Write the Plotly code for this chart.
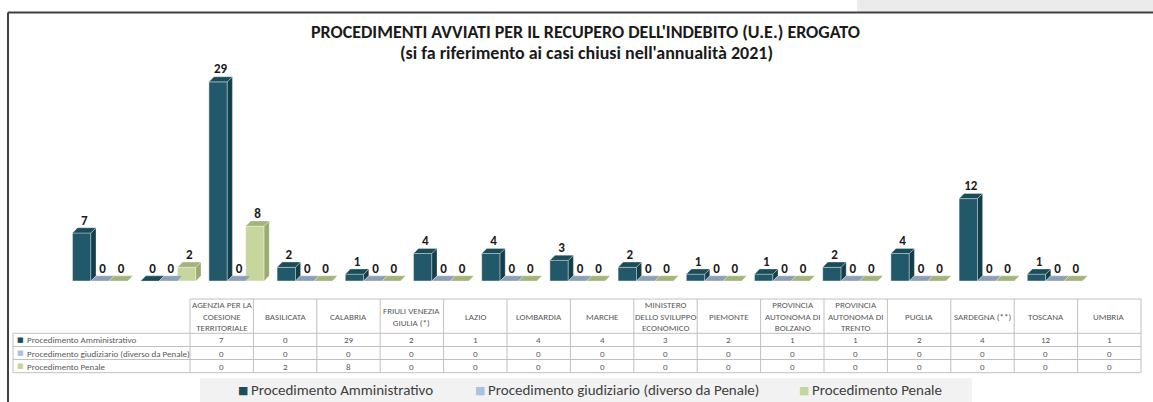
import plotly.graph_objects as go

W, H = 1153, 402

categories = ["AGENZIA PER LA<br>COESIONE<br>TERRITORIALE", "BASILICATA", "CALABRIA",
              "FRIULI VENEZIA<br>GIULIA (*)", "LAZIO", "LOMBARDIA", "MARCHE",
              "MINISTERO<br>DELLO SVILUPPO<br>ECONOMICO", "PIEMONTE",
              "PROVINCIA<br>AUTONOMA DI<br>BOLZANO", "PROVINCIA<br>AUTONOMA DI<br>TRENTO",
              "PUGLIA", "SARDEGNA (**)", "TOSCANA", "UMBRIA"]
series_names = ["Procedimento Amministrativo",
                "Procedimento giudiziario (diverso da Penale)",
                "Procedimento Penale"]
amministrativo = [7, 0, 29, 2, 1, 4, 4, 3, 2, 1, 1, 2, 4, 12, 1]
giudiziario = [0, 0, 0, 0, 0, 0, 0, 0, 0, 0, 0, 0, 0, 0, 0]
penale = [0, 2, 8, 0, 0, 0, 0, 0, 0, 0, 0, 0, 0, 0, 0]
series_values = [amministrativo, giudiziario, penale]

front_col = ["#22596a", "#97a8bd", "#c6d69c"]
side_col = ["#143e4a", "#7a8aa0", "#9aab6f"]
top_col = ["#1b4c59", "#8e9fb5", "#a3b37a"]
legend_col = ["#1f4e5a", "#a9c3df", "#c3d69b"]

FONT = "Calibri, Carlito, 'Liberation Sans Narrow', 'Liberation Sans', sans-serif"


def px(x):
    return x / W


def py(y):
    return 1 - y / H


bw = 0.27      # bar width (category units)
dx = 0.075     # depth offset in x
dy = 0.75      # depth offset in y

fig = go.Figure()
xs = list(range(len(categories)))

for k, (name, vals) in enumerate(zip(series_names, series_values)):
    off = -1.5 * bw + k * bw
    fig.add_trace(go.Bar(x=xs, y=vals, width=bw, offset=off, name=name,
                         marker=dict(color=front_col[k], line=dict(color="rgba(255,255,255,0.55)", width=0.8)),
                         showlegend=False, hoverinfo="skip"))
    sx, sy, tx, ty = [], [], [], []
    for i, v in zip(xs, vals):
        x0 = i + off
        x1 = x0 + bw
        if v > 0:
            sx += [x1, x1 + dx, x1 + dx, x1, x1, None]
            sy += [0, dy, v + dy, v, 0, None]
        tx += [x0, x1, x1 + dx, x0 + dx, x0, None]
        ty += [v, v, v + dy, v + dy, v, None]
    fig.add_trace(go.Scatter(x=sx, y=sy, mode="lines", fill="toself", fillcolor=side_col[k],
                             line=dict(color="rgba(255,255,255,0.5)", width=0.6),
                             showlegend=False, hoverinfo="skip"))
    fig.add_trace(go.Scatter(x=tx, y=ty, mode="lines", fill="toself", fillcolor=top_col[k],
                             line=dict(color="rgba(255,255,255,0.5)", width=0.6),
                             showlegend=False, hoverinfo="skip"))
    fig.add_trace(go.Scatter(x=[i + off + bw / 2 + dx / 2 for i in xs],
                             y=[v + dy for v in vals], mode="text",
                             text=[str(v) for v in vals], textposition="top center",
                             textfont=dict(family=FONT, size=13, color="#1a1a1a", weight="bold"),
                             cliponaxis=False, showlegend=False, hoverinfo="skip"))

fig.update_layout(
    width=W, height=H, margin=dict(l=0, r=0, t=0, b=0),
    paper_bgcolor="white", plot_bgcolor="rgba(0,0,0,0)",
    barmode="overlay",
    xaxis=dict(range=[-0.5, 14.5], domain=[px(66), px(1089)], visible=False, fixedrange=True),
    yaxis=dict(range=[0, 30], domain=[py(281), py(75)], visible=False, fixedrange=True),
)

# ---- data table (grid + text) ----
ncol = len(categories)
t_left, c_left, t_right = 13, 190, 1141
colw = (t_right - c_left) / ncol
h_top, h_bot = 299, 333.3
row_edges = [333.3, 346.5, 359.5, 372.7]
grid = dict(color="#c0c0c0", width=1)


def hline(y, x0, x1):
    fig.add_shape(type="line", xref="paper", yref="paper", x0=px(x0), x1=px(x1),
                  y0=py(y), y1=py(y), line=grid)


def vline(x, y0, y1):
    fig.add_shape(type="line", xref="paper", yref="paper", x0=px(x), x1=px(x),
                  y0=py(y0), y1=py(y1), line=grid)


hline(h_top, c_left, t_right)
for y in row_edges:
    hline(y, t_left, t_right)
vline(t_left, row_edges[0], row_edges[-1])
for j in range(ncol + 1):
    vline(c_left + j * colw, h_top, row_edges[-1])

for j, cat in enumerate(categories):
    fig.add_annotation(x=px(c_left + (j + 0.5) * colw), y=py((h_top + h_bot) / 2),
                       xref="paper", yref="paper", showarrow=False, xanchor="center", yanchor="middle",
                       text=cat, align="center",
                       font=dict(family=FONT, size=9, color="#595959"))
for r, (name, vals) in enumerate(zip(series_names, series_values)):
    yc = (row_edges[r] + row_edges[r + 1]) / 2
    fig.add_annotation(x=px(t_left + 2), y=py(yc), xref="paper", yref="paper", showarrow=False,
                       xanchor="left", yanchor="middle", text="■",
                       font=dict(family="DejaVu Sans", size=7, color=legend_col[r]))
    fig.add_annotation(x=px(t_left + 12), y=py(yc), xref="paper", yref="paper", showarrow=False,
                       xanchor="left", yanchor="middle", text=name,
                       font=dict(family=FONT, size=9, color="#595959"))
    for j, v in enumerate(vals):
        fig.add_annotation(x=px(c_left + (j + 0.5) * colw), y=py(yc), xref="paper", yref="paper",
                           showarrow=False, xanchor="center", yanchor="middle", text=str(v),
                           font=dict(family=FONT, size=9, color="#595959"))

# frame and top-right gray area
fig.add_shape(type="rect", xref="paper", yref="paper", x0=px(857), x1=1, y0=py(12), y1=1,
              fillcolor="#ebebeb", line=dict(width=0), layer="below")
fig.add_shape(type="line", xref="paper", yref="paper", x0=px(8), x1=1, y0=py(12.5), y1=py(12.5),
              line=dict(color="#404040", width=2))
fig.add_shape(type="line", xref="paper", yref="paper", x0=px(8), x1=px(8), y0=0, y1=py(12.5),
              line=dict(color="#404040", width=2))
# legend background
fig.add_shape(type="rect", xref="paper", yref="paper", x0=px(200), x1=px(972), y0=0, y1=py(378),
              fillcolor="#f2f2f2", line=dict(width=0), layer="below")

# titles
fig.add_annotation(x=px(585), y=py(32), xref="paper", yref="paper", showarrow=False,
                   xanchor="center", yanchor="middle",
                   text="PROCEDIMENTI AVVIATI PER IL RECUPERO DELL'INDEBITO (U.E.) EROGATO",
                   font=dict(family=FONT, size=18, color="#1a1a1a", weight="bold"))
fig.add_annotation(x=px(586), y=py(53), xref="paper", yref="paper", showarrow=False,
                   xanchor="center", yanchor="middle",
                   text="(si fa riferimento ai casi chiusi nell'annualità 2021)",
                   font=dict(family=FONT, size=18, color="#1a1a1a", weight="bold"))

# legend
leg_sq_x = [236, 473, 797]
leg_tx_x = [249, 486, 810]
for c, n, sxp, txp in zip(legend_col, series_names, leg_sq_x, leg_tx_x):
    fig.add_annotation(x=px(sxp), y=py(390), xref="paper", yref="paper", showarrow=False,
                       xanchor="left", yanchor="middle", text="■",
                       font=dict(family="DejaVu Sans", size=11, color=c))
    fig.add_annotation(x=px(txp), y=py(390), xref="paper", yref="paper", showarrow=False,
                       xanchor="left", yanchor="middle", text=n,
                       font=dict(family=FONT, size=15, color="#404040"))

fig.write_html("out.html", config={"displayModeBar": False},
               post_script="document.body.style.margin='0';document.body.style.overflow='hidden';")
